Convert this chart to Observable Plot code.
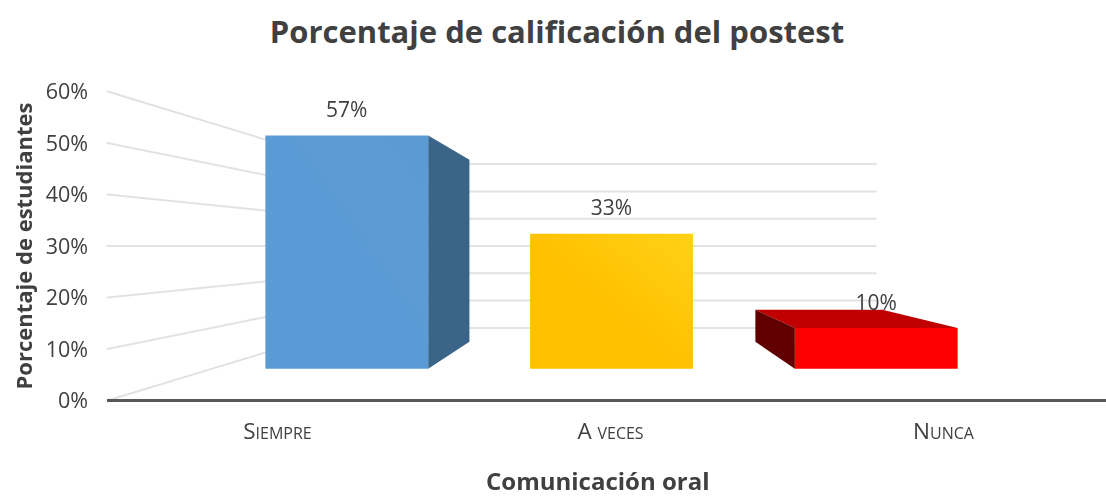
<!DOCTYPE html>
<html lang="es">
<head>
<meta charset="utf-8">
<script src="https://cdn.jsdelivr.net/npm/d3@7"></script>
<script src="https://cdn.jsdelivr.net/npm/@observablehq/plot@0.6"></script>
<style>
  html, body { margin: 0; padding: 0; background: #fff; }
  body { width: 1106px; height: 497px; overflow: hidden; font-family: "Open Sans", sans-serif; }
  #title { height: 60px; line-height: 62px; text-align: center; font-size: 31px; font-weight: 700; color: #404040; padding-left: 8px; box-sizing: border-box; }
  #chart svg { display: block; filter: blur(0.35px); }
  #chart svg [aria-label="x-axis tick label"] text { font-variant: small-caps; }
</style>
</head>
<body>
<div id="title">Porcentaje de calificación del postest</div>
<div id="chart"></div>
<script>
const categories = ["Siempre", "A veces", "Nunca"];
const values = [0.57, 0.33, 0.10];
const valueLabels = ["57%", "33%", "10%"];
const yTicks = [0, 0.1, 0.2, 0.3, 0.4, 0.5, 0.6];

// Perspective model, in data units
const vanish = {x: 1.515, y: 0.30};
const depth = {wall: 1, barFront: 0.795, barBack: 0.62, back: 0.53};
const wallX = [-0.0105, 2.99];
const barWidth = 0.615;

const project = (x, v, s) => ({x: vanish.x + (x - vanish.x) * s, y: vanish.y + (v - vanish.y) * s});
const face = (corners) => corners.map(([x, v, s]) => project(x, v, s));

const sideGrid = yTicks.map((v) => [project(wallX[0], v, depth.wall), project(wallX[0], v, depth.back)]);
const backGrid = yTicks.map((v) => [project(wallX[0], v, depth.back), project(wallX[1], v, depth.back)]);

const front = ["url(#fBlue)", "url(#fYellow)", "#ff0000"];
const sideShade = ["#3a6488", "#8a6a00", "#600000"];
const topShade = ["#3f74a3", "#c09000", "#c00000"];

const f = depth.barFront, b = depth.barBack;
const barFaces = values.flatMap((v, i) => {
  const l = i + 0.5 - barWidth / 2, r = i + 0.5 + barWidth / 2;
  const out = [];
  if (v < vanish.y) out.push({pts: face([[l, v, f], [r, v, f], [r, v, b], [l, v, b]]), fill: topShade[i]});
  if (r < vanish.x) out.push({pts: face([[r, 0, f], [r, v, f], [r, v, b], [r, 0, b]]), fill: sideShade[i]});
  if (l > vanish.x) out.push({pts: face([[l, 0, f], [l, v, f], [l, v, b], [l, 0, b]]), fill: sideShade[i]});
  out.push({pts: face([[l, 0, f], [l, v, f], [r, v, f], [r, 0, f]]), fill: front[i]});
  return out;
});

const labels = values.map((v, i) => ({...project(i + 0.5, v, f), text: valueLabels[i]}));

const gradients = () => {
  const defs = d3.create("svg:defs");
  const add = (id, from, to) => {
    const g = defs.append("linearGradient").attr("id", id)
      .attr("x1", 0).attr("y1", 1).attr("x2", 1).attr("y2", 0);
    g.append("stop").attr("offset", "0.45").attr("stop-color", from);
    g.append("stop").attr("offset", "1").attr("stop-color", to);
  };
  add("fBlue", "#5b9bd5", "#5c9ad3");
  add("fYellow", "#ffc000", "#ffd116");
  return defs.node();
};

const gridStyle = {x: "x", y: "y", stroke: "#e2e2e2", strokeWidth: 2};

const chart = Plot.plot({
  width: 1106,
  height: 437,
  marginTop: 31,
  marginBottom: 97,
  marginLeft: 110.5,
  marginRight: 0,
  style: {fontFamily: "Open Sans, sans-serif", background: "transparent", overflow: "visible"},
  x: {domain: [0, 3], range: [110.5, 1109.5]},
  y: {domain: [0, 0.6], range: [340, 31]},
  marks: [
    gradients,
    ...backGrid.map((g) => Plot.line(g, gridStyle)),
    ...sideGrid.map((g) => Plot.line(g, gridStyle)),
    ...barFaces.map((d) => Plot.line(d.pts, {x: "x", y: "y", fill: d.fill, stroke: "none"})),
    Plot.ruleY([0], {x1: wallX[0], x2: wallX[1], stroke: "#595959", strokeWidth: 3}),
    Plot.axisY({
      ticks: yTicks, tickFormat: d3.format(".0%"), tickSize: 0, tickPadding: 23,
      fontSize: 21.5, dy: 1, color: "#404040",
      label: null
    }),
    Plot.axisX({
      ticks: categories.map((c, i) => i + 0.5),
      tickFormat: (t) => categories[Math.floor(t)],
      tickSize: 0, tickPadding: 23, fontSize: 22.5, color: "#404040", label: null
    }),
    Plot.text(labels, {x: "x", y: "y", text: "text", dy: -25, fontSize: 21, fill: "#404040"}),
    Plot.text(["Porcentaje de estudiantes"], {
      frameAnchor: "left", textAnchor: "middle", dx: -86, rotate: -90, fontSize: 22, fontWeight: 700, fill: "#404040"
    }),
    Plot.text(["Comunicación oral"], {
      frameAnchor: "bottom", lineAnchor: "middle", dx: -11, dy: 82, fontSize: 24, fontWeight: 700, fill: "#404040"
    })
  ]
});
document.getElementById("chart").append(chart);
</script>
</body>
</html>
